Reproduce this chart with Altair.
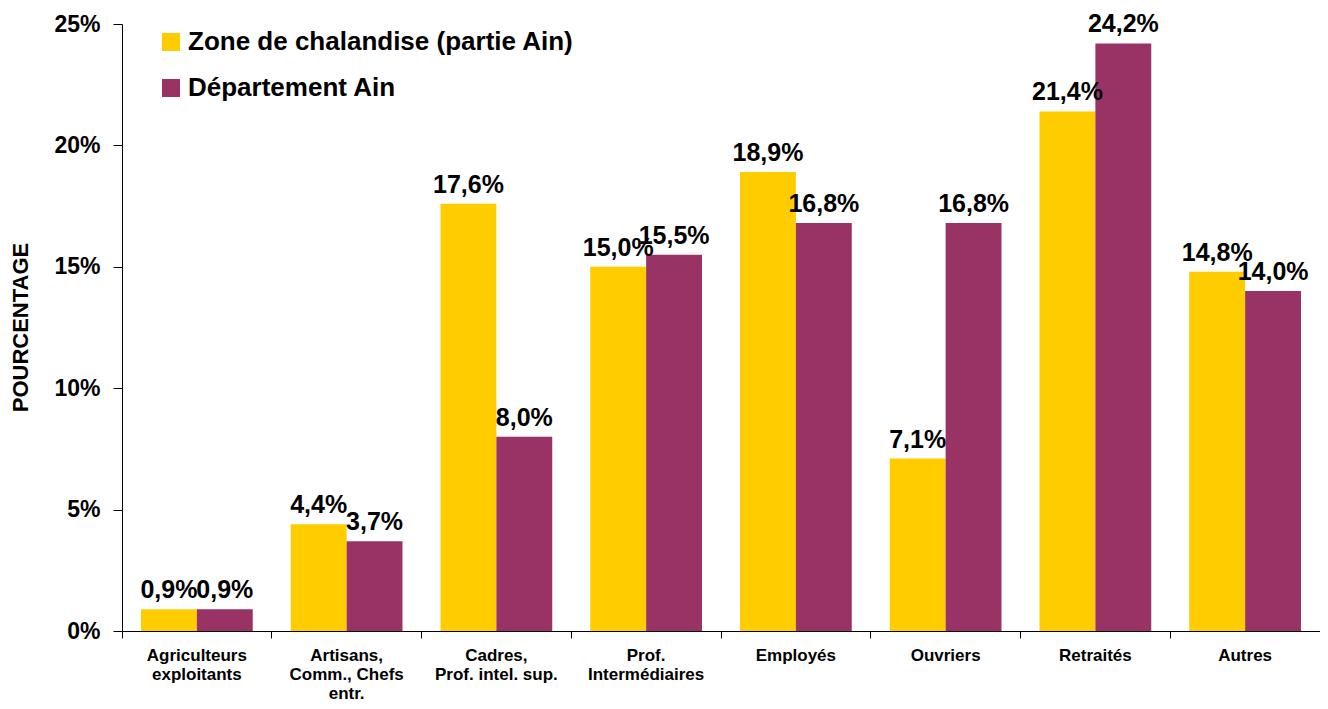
import altair as alt
import pandas as pd

categories = [
    "Agriculteurs|exploitants",
    "Artisans,|Comm., Chefs|entr.",
    "Cadres,|Prof. intel. sup.",
    "Prof.|Intermédiaires",
    "Employés",
    "Ouvriers",
    "Retraités",
    "Autres",
]
series_names = ["Zone de chalandise (partie Ain)", "Département Ain"]
zone_values = [0.9, 4.4, 17.6, 15.0, 18.9, 7.1, 21.4, 14.8]
dept_values = [0.9, 3.7, 8.0, 15.5, 16.8, 16.8, 24.2, 14.0]
colors = ["#FFCC00", "#993366"]
y_ticks = [0, 5, 10, 15, 20, 25]

rows = []
for c, z, d in zip(categories, zone_values, dept_values):
    rows.append({"cat": c, "serie": series_names[0], "v": z})
    rows.append({"cat": c, "serie": series_names[1], "v": d})
df = pd.DataFrame(rows)

FONT = "Liberation Sans"

x = alt.X(
    "cat:N",
    sort=categories,
    scale=alt.Scale(paddingInner=0, paddingOuter=0),
    axis=alt.Axis(
        title=None,
        labelAngle=0,
        labelExpr="split(datum.label, '|')",
        labelFont=FONT,
        labelFontSize=17,
        labelFontWeight="bold",
        labelColor="black",
        labelLineHeight=19,
        labelPadding=9,
        labelBaseline="top",
        tickSize=7,
        tickColor="black",
        domainColor="black",
        bandPosition=1,
        tickExtra=True,
    ),
)
xo = alt.XOffset(
    "serie:N",
    sort=series_names,
    scale=alt.Scale(paddingInner=0, paddingOuter=0.34),
)
y = alt.Y(
    "v:Q",
    scale=alt.Scale(domain=[0, 25], nice=False),
    axis=alt.Axis(
        title="POURCENTAGE",
        values=y_ticks,
        labelExpr="datum.value + '%'",
        labelFont=FONT,
        labelFontSize=23,
        labelFontWeight="bold",
        labelColor="black",
        labelPadding=13,
        tickSize=9,
        tickColor="black",
        domainColor="black",
        grid=False,
        titleFont=FONT,
        titleFontSize=22,
        titleFontWeight="bold",
        titleColor="black",
        titleX=-102,
        titleY=303,
        titleAngle=270,
        titleAlign="center",
        titleBaseline="middle",
    ),
)
color = alt.Color(
    "serie:N",
    sort=series_names,
    scale=alt.Scale(domain=series_names, range=colors),
    legend=alt.Legend(
        title=None,
        orient="none",
        legendX=36,
        legendY=5,
        symbolType="square",
        symbolSize=324,
        symbolStrokeWidth=0,
        symbolOpacity=1,
        labelFont=FONT,
        labelFontSize=26,
        labelFontWeight="bold",
        labelColor="black",
        labelOffset=4,
        rowPadding=20,
        padding=0,
        labelLimit=600,
    ),
)

base = alt.Chart(df)
bars = base.mark_bar(opacity=1).encode(x=x, xOffset=xo, y=y, color=color)
labels = base.transform_calculate(
    lab="replace(format(datum.v, '.1f'), '.', ',') + '%'"
).mark_text(
    font=FONT, fontSize=25, fontWeight="bold", color="black",
    baseline="alphabetic", align="center", dy=-11,
).encode(x=x, xOffset=xo, y=y, text="lab:N")

chart = (
    alt.layer(bars, labels)
    .properties(
        width=1198,
        height=607,
        autosize=alt.AutoSizeParams(type="none"),
        padding={"left": 114, "top": 16, "right": 0, "bottom": 70},
    )
    .configure_view(stroke=None)
)
chart.save("out.html", embed_options={"renderer": "svg", "actions": False})
